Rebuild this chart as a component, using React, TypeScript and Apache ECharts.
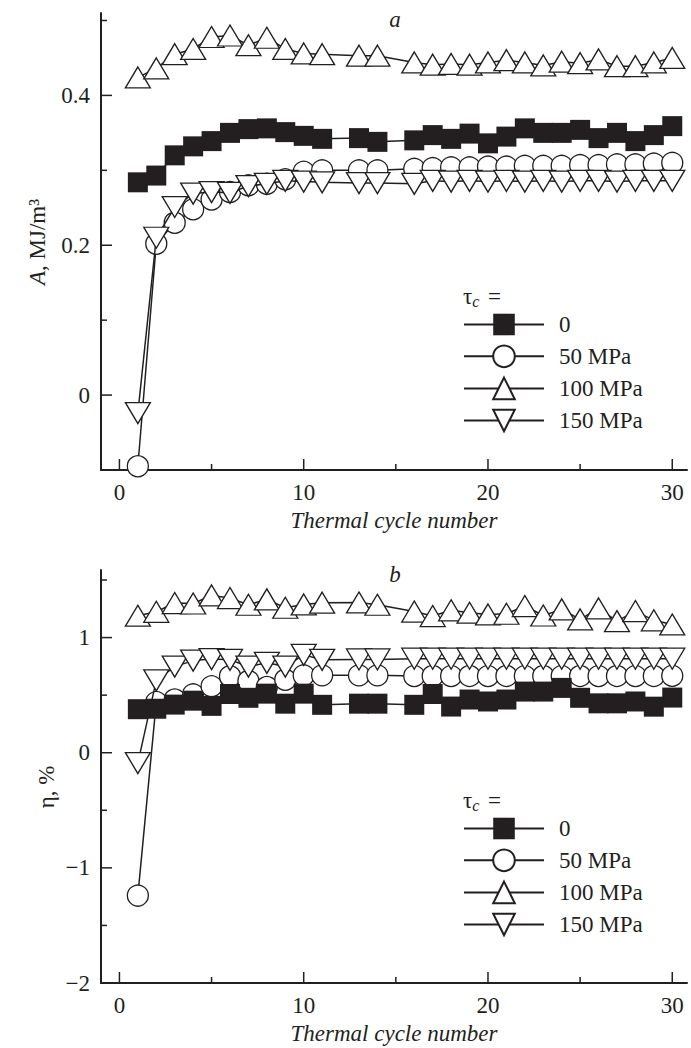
import React, { useEffect, useRef } from "react";
import * as echarts from "echarts";

const cycles = [1, 2, 3, 4, 5, 6, 7, 8, 9, 10, 11, 13, 14, 16, 17, 18, 19, 20, 21, 22, 23, 24, 25, 26, 27, 28, 29, 30];

// Panel a: A, MJ/m3
const a0 = [0.284, 0.293, 0.320, 0.332, 0.339, 0.350, 0.355, 0.356, 0.351, 0.346, 0.342, 0.343, 0.338, 0.340, 0.347, 0.342, 0.349, 0.336, 0.345, 0.356, 0.350, 0.350, 0.354, 0.343, 0.350, 0.339, 0.347, 0.359];
const a50 = [-0.095, 0.202, 0.230, 0.248, 0.261, 0.271, 0.280, 0.282, 0.288, 0.298, 0.300, 0.300, 0.300, 0.302, 0.303, 0.304, 0.304, 0.305, 0.305, 0.306, 0.306, 0.306, 0.307, 0.307, 0.308, 0.308, 0.309, 0.310];
const a100 = [0.424, 0.436, 0.455, 0.462, 0.478, 0.480, 0.467, 0.477, 0.462, 0.456, 0.455, 0.453, 0.453, 0.444, 0.441, 0.442, 0.441, 0.444, 0.447, 0.444, 0.440, 0.445, 0.443, 0.448, 0.439, 0.439, 0.444, 0.450];
const a150 = [-0.024, 0.210, 0.251, 0.269, 0.271, 0.270, 0.279, 0.282, 0.286, 0.285, 0.284, 0.283, 0.283, 0.282, 0.286, 0.285, 0.286, 0.285, 0.286, 0.285, 0.286, 0.285, 0.286, 0.286, 0.285, 0.286, 0.286, 0.286];

// Panel b: eta, %
const b0 = [0.378, 0.382, 0.418, 0.452, 0.407, 0.510, 0.477, 0.513, 0.426, 0.513, 0.416, 0.426, 0.426, 0.416, 0.510, 0.401, 0.462, 0.445, 0.462, 0.531, 0.531, 0.563, 0.477, 0.429, 0.429, 0.445, 0.400, 0.479];
const b50 = [-1.241, 0.440, 0.463, 0.507, 0.577, 0.664, 0.623, 0.571, 0.634, 0.672, 0.672, 0.672, 0.672, 0.666, 0.667, 0.666, 0.667, 0.666, 0.667, 0.666, 0.667, 0.666, 0.667, 0.666, 0.667, 0.666, 0.667, 0.668];
const b100 = [1.190, 1.224, 1.300, 1.296, 1.366, 1.343, 1.285, 1.332, 1.259, 1.288, 1.303, 1.305, 1.285, 1.226, 1.187, 1.237, 1.216, 1.201, 1.207, 1.274, 1.192, 1.245, 1.158, 1.253, 1.143, 1.230, 1.150, 1.114];
const b150 = [-0.090, 0.629, 0.748, 0.800, 0.813, 0.807, 0.748, 0.781, 0.748, 0.850, 0.807, 0.810, 0.810, 0.817, 0.817, 0.817, 0.817, 0.817, 0.817, 0.817, 0.817, 0.817, 0.817, 0.817, 0.817, 0.817, 0.817, 0.817];

const names = ["0", "50 MPa", "100 MPa", "150 MPa"];
const xMajor = [0, 10, 20, 30];
const xMinor = [5, 15, 25];
const aMajor = [0, 0.2, 0.4];
const aMinor = [0.1, 0.3, 0.5];
const bMajor = [-2, -1, 0, 1];
const bMinor = [-1.5, -0.5, 0.5, 1.5];

const FONT = "'Liberation Serif', 'Times New Roman', serif";
const FS = 23;
const INK = "#231f20";

const X_MIN = -1, X_MAX = 30.8;
const A_MIN = -0.1, A_MAX = 0.51;
const B_MIN = -2, B_MAX = 1.587;

const symbolStyles: Record<string, any> = {
  "0": { symbol: "rect", symbolSize: 20, itemStyle: { color: INK, borderColor: INK, borderWidth: 0 } },
  "50 MPa": { symbol: "circle", symbolSize: 21, itemStyle: { color: "#fff", borderColor: INK, borderWidth: 1.3 } },
  "100 MPa": { symbol: "triangle", symbolSize: [25, 21], itemStyle: { color: "#fff", borderColor: INK, borderWidth: 1.3 } },
  "150 MPa": { symbol: "path://M0,0L20,0L10,17Z", symbolSize: [25, 21], itemStyle: { color: "#fff", borderColor: INK, borderWidth: 1.3 } },
};

function mkSeries(name: string, vals: number[], axisIdx: number, z: number) {
  return {
    type: "line",
    name,
    xAxisIndex: axisIdx,
    yAxisIndex: axisIdx,
    data: cycles.map((c, i) => [c, vals[i]]),
    lineStyle: { color: INK, width: 1.5 },
    showAllSymbol: true,
    z,
    ...symbolStyles[name],
  };
}

// tick marks drawn through the axis scale (inward pointing)
function tickSeries(axisIdx: number, dir: "x" | "y", values: number[], len: number, base: number) {
  return {
    type: "custom",
    xAxisIndex: axisIdx,
    yAxisIndex: axisIdx,
    silent: true,
    clip: false,
    z: 1,
    data: values.map((v) => (dir === "x" ? [v, base] : [base, v])),
    renderItem: (_p: any, api: any) => {
      const pt = api.coord([api.value(0), api.value(1)]);
      const shape =
        dir === "x"
          ? { x1: pt[0], y1: pt[1], x2: pt[0], y2: pt[1] - len }
          : { x1: pt[0], y1: pt[1], x2: pt[0] + len, y2: pt[1] };
      return { type: "line", shape, style: { stroke: INK, lineWidth: 1.5 } };
    },
  };
}

const tickLabel = { fontFamily: FONT, fontSize: FS, color: INK };

function xAxis(grid: number) {
  return {
    type: "value", gridIndex: grid, min: X_MIN, max: X_MAX, position: "bottom",
    axisLine: { show: true, onZero: false, lineStyle: { color: INK, width: 2 } },
    axisTick: { show: false },
    axisLabel: { show: true, customValues: xMajor, margin: 11, ...tickLabel },
    splitLine: { show: false },
    name: "Thermal cycle number", nameLocation: "middle", nameGap: 39,
    nameTextStyle: { fontFamily: FONT, fontSize: FS, fontStyle: "italic", color: INK },
  };
}

function yAxis(grid: number, min: number, max: number, major: number[], fmt: (v: number) => string) {
  return {
    type: "value", gridIndex: grid, min, max, position: "left",
    axisLine: { show: true, onZero: false, lineStyle: { color: INK, width: 2 } },
    axisTick: { show: false },
    axisLabel: { show: true, customValues: major, margin: 11, formatter: fmt, ...tickLabel },
    splitLine: { show: false },
  };
}

const fmtA = (v: number) => (Math.abs(v) < 1e-9 ? "0" : v.toFixed(1));
const fmtB = (v: number) => (v < 0 ? "\u2212" + Math.abs(v).toFixed(0) : v.toFixed(0));

function legend(top: number) {
  return {
    data: names,
    orient: "vertical",
    left: 463,
    top,
    padding: 0,
    itemWidth: 80,
    itemHeight: 27,
    itemGap: 8.5,
    formatter: (n: string) => "{n|" + n + "}",
    textStyle: {
      fontFamily: FONT, fontSize: FS, color: INK,
      rich: { n: { fontFamily: FONT, fontSize: FS, color: INK, padding: [0, 0, 0, 10] } },
    },
    selectedMode: false,
  };
}

function tauTitle(cy: number) {
  return {
    type: "text",
    x: 463,
    y: cy,
    style: {
      text: "{t|\u03c4}{c|c} =",
      fontFamily: FONT,
      fontSize: FS,
      fill: INK,
      verticalAlign: "middle",
      rich: {
        t: { fontFamily: FONT, fontSize: FS, fill: INK },
        c: { fontFamily: FONT, fontSize: 16, fontStyle: "italic", fill: INK, padding: [10, 3, 0, 0] },
      },
    },
  };
}

function rotName(x: number, y: number, text: string, rich: any) {
  return {
    type: "text",
    x,
    y,
    rotation: Math.PI / 2,
    style: { text, fontFamily: FONT, fontSize: FS, fill: INK, align: "center", verticalAlign: "middle", rich },
  };
}

const option: any = {
  animation: false,
  backgroundColor: "#fff",
  grid: [
    { left: 101, top: 13, width: 586, height: 457 },
    { left: 101, top: 570, width: 586, height: 413 },
  ],
  xAxis: [xAxis(0), xAxis(1)],
  yAxis: [yAxis(0, A_MIN, A_MAX, aMajor, fmtA), yAxis(1, B_MIN, B_MAX, bMajor, fmtB)],
  legend: [legend(313), legend(817)],
  graphic: [
    { type: "text", x: 395, y: 19, style: { text: "a", fontFamily: FONT, fontSize: FS, fontStyle: "italic", fill: INK, align: "center", verticalAlign: "middle" } },
    { type: "text", x: 395, y: 574, style: { text: "b", fontFamily: FONT, fontSize: FS, fontStyle: "italic", fill: INK, align: "center", verticalAlign: "middle" } },
    tauTitle(296),
    tauTitle(800),
    rotName(37, 242, "{i|A}, MJ/m\u00b3", { i: { fontFamily: FONT, fontSize: FS, fontStyle: "italic", fill: INK } }),
    rotName(46, 787, "\u03b7, %", {}),
  ],
  series: [
    tickSeries(0, "x", xMajor, 11, A_MIN),
    tickSeries(0, "x", xMinor, 6, A_MIN),
    tickSeries(0, "y", aMajor, 11, X_MIN),
    tickSeries(0, "y", aMinor, 6, X_MIN),
    tickSeries(1, "x", xMajor, 11, B_MIN),
    tickSeries(1, "x", xMinor, 6, B_MIN),
    tickSeries(1, "y", bMajor, 11, X_MIN),
    tickSeries(1, "y", bMinor, 6, X_MIN),
    mkSeries("50 MPa", a50, 0, 2),
    mkSeries("0", a0, 0, 3),
    mkSeries("100 MPa", a100, 0, 4),
    mkSeries("150 MPa", a150, 0, 5),
    mkSeries("50 MPa", b50, 1, 2),
    mkSeries("0", b0, 1, 3),
    mkSeries("100 MPa", b100, 1, 4),
    mkSeries("150 MPa", b150, 1, 5),
  ],
};

export default function App() {
  const ref = useRef<HTMLDivElement>(null);
  useEffect(() => {
    const chart = echarts.init(ref.current!, null, { renderer: "svg" });
    chart.setOption(option);
    return () => chart.dispose();
  }, []);
  return (
    <div
      ref={ref}
      style={{ position: "absolute", left: 0, top: 0, width: 691, height: 1048, background: "#fff" }}
    />
  );
}
